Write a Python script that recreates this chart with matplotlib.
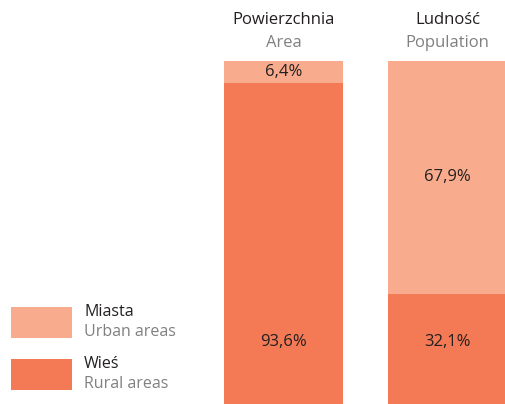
import matplotlib.pyplot as plt
import matplotlib.transforms as mtransforms
from matplotlib.patches import Rectangle

# Dane
groups_pl = ['Powierzchnia', 'Ludność']
groups_en = ['Area', 'Population']
urban = [6.4, 67.9]
rural = [93.6, 32.1]
legend_pl = ['Miasta', 'Wieś']
legend_en = ['Urban areas', 'Rural areas']

COL_URBAN = '#F8AC8D'
COL_RURAL = '#F37A55'
DARK = '#231F20'
GREY = '#808080'

plt.rcParams['font.family'] = ['Open Sans', 'DejaVu Sans']

W, H = 505, 404
fig = plt.figure(figsize=(W / 100, H / 100), dpi=100)
ax = fig.add_axes([0, 0, 1, 343 / H])

x = list(range(len(groups_pl)))
ax.bar(x, rural, width=0.726, color=COL_RURAL, linewidth=0)
ax.bar(x, urban, bottom=rural, width=0.726, color=COL_URBAN, linewidth=0)
ax.set_xlim(-1.729, 1.351)
ax.set_ylim(0, 100)
ax.axis('off')

# etykiety procentowe
for i in x:
    u_mid = rural[i] + urban[i] / 2
    ax.text(i, u_mid, f'{urban[i]:.1f}%'.replace('.', ','),
            ha='center', va='center', fontsize=12, color=DARK)
    ax.text(i, 18, f'{rural[i]:.1f}%'.replace('.', ','),
            ha='center', va='center', fontsize=12, color=DARK)

# naglowki
trans = mtransforms.blended_transform_factory(ax.transData, fig.transFigure)
for i in x:
    ax.text(i, 1 - 20 / H, groups_pl[i], transform=trans, ha='center', va='center',
            fontsize=12, color=DARK, clip_on=False)
    ax.text(i, 1 - 43 / H, groups_en[i], transform=trans, ha='center', va='center',
            fontsize=12, color=GREY, clip_on=False)

# legenda
for k, (col, top) in enumerate([(COL_URBAN, 307), (COL_RURAL, 359)]):
    fig.patches.append(Rectangle((11 / W, 1 - (top + 31) / H), 61 / W, 31 / H,
                                 transform=fig.transFigure, color=col, linewidth=0))
    fig.text(84 / W, 1 - (top + 5) / H, legend_pl[k], ha='left', va='center',
             fontsize=11.5, color=DARK)
    fig.text(84 / W, 1 - (top + 25) / H, legend_en[k], ha='left', va='center',
             fontsize=11.5, color=GREY)

fig.savefig('out.png', dpi=100)
